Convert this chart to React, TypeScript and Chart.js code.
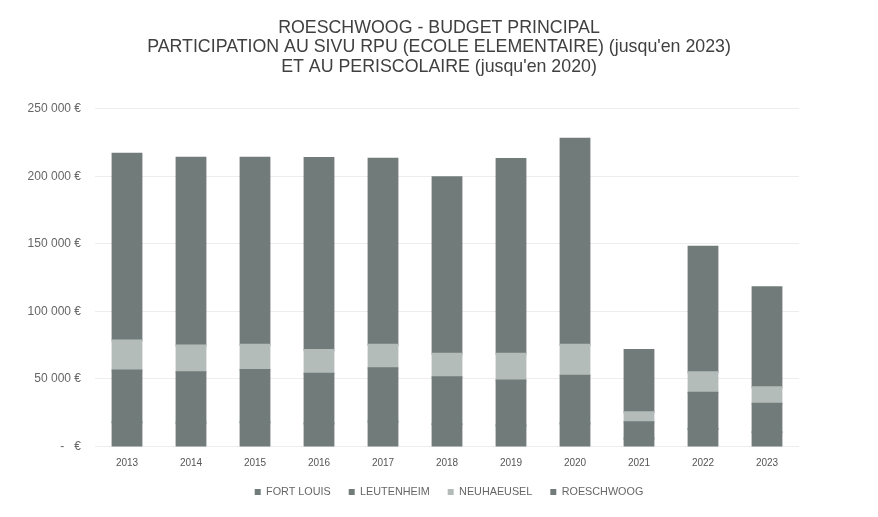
import React, { useEffect, useRef } from "react";
import { Chart, registerables } from "chart.js";

Chart.register(...registerables);

const years = ["2013", "2014", "2015", "2016", "2017", "2018", "2019", "2020", "2021", "2022", "2023"];
const fortLouis = [18000, 17500, 18000, 17000, 18500, 16500, 15500, 17000, 6000, 13000, 10500];
const leutenheim = [38200, 37500, 38700, 36800, 39400, 34800, 33300, 35300, 12000, 26700, 21100];
const neuhaeusel = [22200, 19700, 18700, 17700, 17500, 17300, 19800, 23100, 7400, 15300, 12300];
const roeschwoog = [138300, 139100, 138400, 142000, 137600, 130600, 144200, 152400, 46100, 92900, 73900];
const titleLines = [
  "ROESCHWOOG - BUDGET PRINCIPAL",
  "PARTICIPATION AU SIVU RPU (ECOLE ELEMENTAIRE) (jusqu'en 2023)",
  "ET AU PERISCOLAIRE (jusqu'en 2020)",
];

const DARK = "#717c7a";
const LIGHT = "#b4bcba";
const FONT = "'Liberation Sans', Arial, sans-serif";

function fmt(v: number): string {
  if (v === 0) return "-   €";
  const s = Math.round(v).toString().replace(/\B(?=(\d{3})+(?!\d))/g, " ");
  return s + " €";
}

const legendTweak = {
  id: "legendTweak",
  beforeLayout(chart: any) {
    const lg = chart.legend;
    if (lg && !lg._patched) {
      const orig = lg.fit.bind(lg);
      lg.fit = function () {
        orig();
        this.height = 29.5;
      };
      lg._patched = true;
    }
  },
  afterLayout(chart: any) {
    const lg = chart.legend;
    if (lg) {
      lg.top -= 4;
      lg.left += 20;
    }
  },
};

export default function App() {
  const ref = useRef<HTMLCanvasElement | null>(null);
  useEffect(() => {
    if (!ref.current) return;
    const chart = new Chart(ref.current, {
      type: "bar",
      data: {
        labels: years,
        datasets: [
          { label: "FORT LOUIS", data: fortLouis, backgroundColor: DARK, yAxisID: "y" },
          { label: "LEUTENHEIM", data: leutenheim, backgroundColor: DARK, yAxisID: "y" },
          { label: "NEUHAEUSEL", data: neuhaeusel, backgroundColor: LIGHT, yAxisID: "y" },
          { label: "ROESCHWOOG", data: roeschwoog, backgroundColor: DARK, yAxisID: "y" },
        ],
      },
      plugins: [legendTweak],
      options: {
        animation: false,
        responsive: false,
        layout: { padding: { left: 0, right: 0, top: 0, bottom: 15 } },
        datasets: { bar: { categoryPercentage: 0.9, barPercentage: 0.5, borderWidth: 0, inflateAmount: 1 } },
        plugins: {
          title: {
            display: true,
            text: titleLines,
            color: "#404040",
            font: { family: FONT, size: 17.8, weight: "normal", lineHeight: 1.1 },
            padding: { top: 18, bottom: 32 },
          },
          legend: {
            position: "bottom",
            labels: {
              color: "#666",
              font: { family: FONT, size: 10.8 },
              boxWidth: 6,
              boxHeight: 6,
              padding: 18,
            },
          },
          tooltip: { enabled: false },
        },
        scales: {
          x: {
            stacked: true,
            grid: { display: false },
            border: { display: false },
            ticks: { color: "#555", font: { family: FONT, size: 10 }, padding: 3 },
          },
          y: {
            stacked: true,
            min: 0,
            max: 250000,
            afterFit: (s: any) => { s.width = 95; },
            grid: { color: "#ededed", drawTicks: false },
            border: { display: false },
            ticks: {
              stepSize: 50000,
              color: "#666",
              padding: 14,
              font: { family: FONT, size: 12 },
              callback: (v: any) => fmt(Number(v)),
            },
          },
          y2: {
            position: "right",
            display: true,
            min: 0,
            max: 250000,
            afterFit: (s: any) => { s.width = 79; },
            grid: { display: false },
            border: { display: false },
            ticks: { display: false },
          },
        },
      },
    });
    return () => chart.destroy();
  }, []);
  return (
    <div style={{ position: "absolute", left: 0, top: 0, width: 878, height: 517, background: "#fff" }}>
      <canvas ref={ref} width={878} height={517} style={{ width: 878, height: 517 }} />
    </div>
  );
}
